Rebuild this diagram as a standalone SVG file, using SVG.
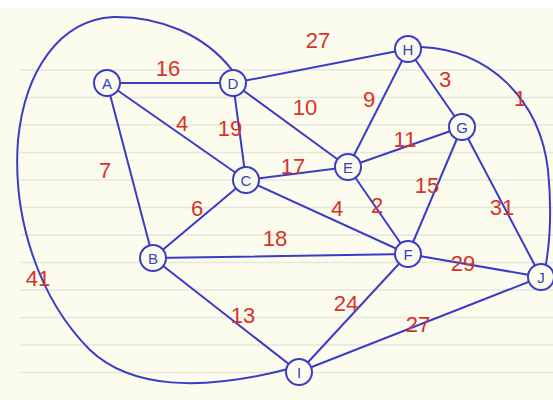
<svg xmlns="http://www.w3.org/2000/svg" width="553" height="400" viewBox="0 0 553 400">
<style>
.bg{fill:#fcfcee}
.rule{stroke:#e6e6dc;stroke-width:1.5}
.e{stroke:#3a3cc8;stroke-width:2;fill:none;stroke-linecap:round}
.n circle{fill:#fcfcee;stroke:#3a3cc8;stroke-width:2}
.n text{font-family:"Liberation Sans",Arial,sans-serif;font-size:15px;fill:#3a3cc8;text-anchor:middle;dominant-baseline:central}
.w{font-family:"Liberation Sans",Arial,sans-serif;font-size:22px;fill:#d8322a;text-anchor:middle;dominant-baseline:central}
</style>
<rect width="553" height="400" fill="#ffffff"/>
<rect x="0" y="8" width="553" height="392" class="bg"/>
<g id="paper-lines">
<line class="rule" x1="20" y1="70" x2="553" y2="70"/>
<line class="rule" x1="20" y1="97.5" x2="553" y2="97.5"/>
<line class="rule" x1="20" y1="125" x2="553" y2="125"/>
<line class="rule" x1="20" y1="152.5" x2="553" y2="152.5"/>
<line class="rule" x1="20" y1="180" x2="553" y2="180"/>
<line class="rule" x1="20" y1="207.5" x2="553" y2="207.5"/>
<line class="rule" x1="20" y1="235" x2="553" y2="235"/>
<line class="rule" x1="20" y1="262.5" x2="553" y2="262.5"/>
<line class="rule" x1="20" y1="290" x2="553" y2="290"/>
<line class="rule" x1="20" y1="317.5" x2="553" y2="317.5"/>
<line class="rule" x1="20" y1="345" x2="553" y2="345"/>
<line class="rule" x1="20" y1="372.5" x2="553" y2="372.5"/>
</g>
<g id="connectors">
<line class="e" x1="107" y1="83" x2="233" y2="83"/>
<line class="e" x1="107" y1="83" x2="246" y2="180"/>
<line class="e" x1="107" y1="83" x2="153" y2="258"/>
<line class="e" x1="233" y1="83" x2="246" y2="180"/>
<line class="e" x1="233" y1="83" x2="348" y2="167"/>
<line class="e" x1="233" y1="83" x2="408" y2="49"/>
<path class="e" d="M232,70 C205,35 160,16 113,17 C60,20 25,70 18,140 C12,220 40,300 90,350 C130,388 200,392 288,369"/>
<line class="e" x1="408" y1="49" x2="348" y2="167"/>
<line class="e" x1="408" y1="49" x2="462" y2="127"/>
<path class="e" d="M421,47 C490,50 540,100 548,170 C552,210 550,240 546,264"/>
<line class="e" x1="462" y1="127" x2="348" y2="167"/>
<line class="e" x1="462" y1="127" x2="408" y2="254"/>
<line class="e" x1="462" y1="127" x2="541" y2="277"/>
<line class="e" x1="246" y1="180" x2="348" y2="167"/>
<line class="e" x1="246" y1="180" x2="408" y2="254"/>
<line class="e" x1="348" y1="167" x2="408" y2="254"/>
<line class="e" x1="246" y1="180" x2="153" y2="258"/>
<line class="e" x1="153" y1="258" x2="408" y2="254"/>
<line class="e" x1="153" y1="258" x2="299" y2="372"/>
<line class="e" x1="408" y1="254" x2="299" y2="372"/>
<line class="e" x1="408" y1="254" x2="541" y2="277"/>
<line class="e" x1="299" y1="372" x2="541" y2="277"/>
</g>
<g id="weights">
<text class="w" x="168" y="68">16</text>
<text class="w" x="182" y="123">4</text>
<text class="w" x="230" y="128">19</text>
<text class="w" x="105" y="170">7</text>
<text class="w" x="318" y="40">27</text>
<text class="w" x="305" y="107">10</text>
<text class="w" x="369" y="99">9</text>
<text class="w" x="445" y="79">3</text>
<text class="w" x="520" y="98">1</text>
<text class="w" x="405" y="139">11</text>
<text class="w" x="293" y="166">17</text>
<text class="w" x="427" y="185">15</text>
<text class="w" x="502" y="207">31</text>
<text class="w" x="197" y="208">6</text>
<text class="w" x="337" y="208">4</text>
<text class="w" x="377" y="205">2</text>
<text class="w" x="275" y="238">18</text>
<text class="w" x="463" y="263">29</text>
<text class="w" x="38" y="278">41</text>
<text class="w" x="243" y="315">13</text>
<text class="w" x="346" y="303">24</text>
<text class="w" x="418" y="324">27</text>
</g>
<g id="node-A" class="n"><circle cx="107" cy="83" r="13"/><text x="107" y="83">A</text></g>
<g id="node-D" class="n"><circle cx="233" cy="83" r="13"/><text x="233" y="83">D</text></g>
<g id="node-C" class="n"><circle cx="246" cy="180" r="13"/><text x="246" y="180">C</text></g>
<g id="node-E" class="n"><circle cx="348" cy="167" r="13"/><text x="348" y="167">E</text></g>
<g id="node-H" class="n"><circle cx="408" cy="49" r="13"/><text x="408" y="49">H</text></g>
<g id="node-G" class="n"><circle cx="462" cy="127" r="13"/><text x="462" y="127">G</text></g>
<g id="node-F" class="n"><circle cx="408" cy="254" r="13"/><text x="408" y="254">F</text></g>
<g id="node-B" class="n"><circle cx="153" cy="258" r="13"/><text x="153" y="258">B</text></g>
<g id="node-J" class="n"><circle cx="541" cy="277" r="13"/><text x="541" y="277">J</text></g>
<g id="node-I" class="n"><circle cx="299" cy="372" r="13"/><text x="299" y="372">I</text></g>
</svg>
